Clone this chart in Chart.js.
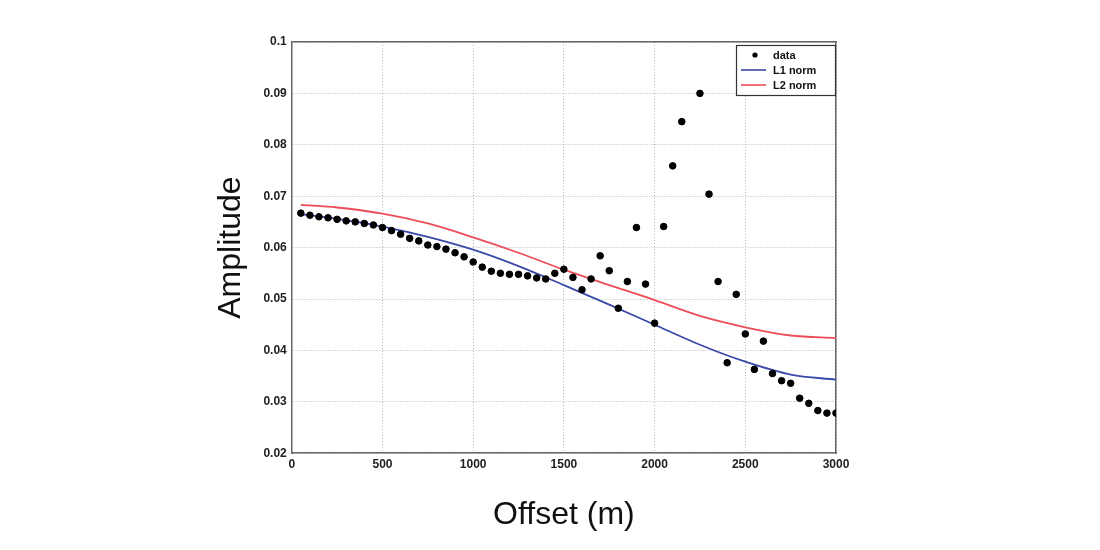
<!DOCTYPE html>
<html>
<head>
<meta charset="utf-8">
<script src="https://cdn.jsdelivr.net/npm/chart.js@4"></script>
<style>
  html, body { margin: 0; padding: 0; background: #fff; }
  #wrap { width: 1100px; height: 550px; }
</style>
</head>
<body>
<div id="wrap"><canvas id="chart" width="1100" height="550"></canvas></div>
<script>
// measured data points (offset in m, amplitude)
const offsets = [50, 100, 150, 200, 250, 300, 350, 400, 450, 500,
  550, 600, 650, 700, 750, 800, 850, 900, 950, 1000,
  1050, 1100, 1150, 1200, 1250, 1300, 1350, 1400, 1450, 1500,
  1550, 1600, 1650, 1700, 1750, 1800, 1850, 1900, 1950, 2000,
  2050, 2100, 2150, 2250, 2300, 2350, 2400, 2450, 2500,
  2550, 2600, 2650, 2700, 2750, 2800, 2850, 2900, 2950, 3000];
const amplitudes = [0.0667, 0.0663, 0.0660, 0.0658, 0.0655, 0.0652, 0.0650, 0.0647, 0.0644, 0.0639,
  0.0633, 0.0626, 0.0618, 0.0613, 0.0605, 0.0602, 0.0597, 0.0590, 0.0582, 0.0572,
  0.0562, 0.0554, 0.0550, 0.0548, 0.0548, 0.0545, 0.0541, 0.0539, 0.0550, 0.0558,
  0.0542, 0.0518, 0.0539, 0.0584, 0.0555, 0.0482, 0.0534, 0.0639, 0.0529, 0.0453,
  0.0641, 0.0759, 0.0845, 0.0900, 0.0704, 0.0534, 0.0376, 0.0509, 0.0432,
  0.0363, 0.0418, 0.0355, 0.0341, 0.0336, 0.0307, 0.0297, 0.0283, 0.0278, 0.0278];

// fitted curves, read every 250 m
const fitOffsets = [50, 250, 500, 750, 1000, 1250, 1500, 1750, 2000, 2250, 2500, 2750, 3000];
const l1Fit = [0.0665, 0.0656, 0.0641, 0.0621, 0.0596, 0.0564, 0.0527, 0.0489, 0.0450, 0.0411, 0.0378, 0.0353, 0.0343];
const l2Fit = [0.0683, 0.0678, 0.0666, 0.0647, 0.0620, 0.0590, 0.0557, 0.0527, 0.0498, 0.0467, 0.0445, 0.0429, 0.0424];

const pairs = (xs, ys) => xs.map((x, i) => ({ x, y: ys[i] }));

const gridCol = "#b4b4b4";
const boxCol = "#666";
const tickFont = { family: "Liberation Sans, Arial, sans-serif", size: 12, weight: "bold" };
const titleFont = { family: "Liberation Sans, Arial, sans-serif", size: 32 };

// legend box drawn inside the top-right corner of the plot
const boxLegend = {
  id: "boxLegend",
  afterDraw(chart) {
    const { ctx, chartArea } = chart;
    const w = 99, h = 50;
    const x0 = chartArea.right - w - 1, y0 = chartArea.top + 3;
    ctx.save();
    ctx.fillStyle = "#fff";
    ctx.fillRect(x0, y0, w, h);
    ctx.strokeStyle = "#333";
    ctx.lineWidth = 1.2;
    ctx.strokeRect(x0 + 0.5, y0 + 0.5, w, h);
    ctx.font = "bold 11px Liberation Sans, Arial, sans-serif";
    ctx.textBaseline = "middle";
    chart.data.datasets.forEach((ds, i) => {
      const cy = y0 + 10 + i * 15;
      if (ds.showLine) {
        ctx.strokeStyle = ds.borderColor;
        ctx.lineWidth = 1.6;
        ctx.beginPath();
        ctx.moveTo(x0 + 5, cy);
        ctx.lineTo(x0 + 30, cy);
        ctx.stroke();
      } else {
        ctx.fillStyle = ds.backgroundColor;
        ctx.beginPath();
        ctx.arc(x0 + 19, cy, 2.6, 0, Math.PI * 2);
        ctx.fill();
      }
      ctx.fillStyle = "#111";
      ctx.fillText(ds.label, x0 + 37, cy + 1);
    });
    ctx.restore();
  }
};

new Chart(document.getElementById("chart"), {
  type: "scatter",
  data: {
    datasets: [
      {
        label: "data",
        data: pairs(offsets, amplitudes),
        backgroundColor: "#000",
        borderColor: "#000",
        pointRadius: 3.3,
        pointStyle: "circle",
        showLine: false,
        order: 0
      },
      {
        label: "L1 norm",
        data: pairs(fitOffsets, l1Fit),
        borderColor: "#3a49a8",
        backgroundColor: "#3a49a8",
        borderWidth: 1.8,
        pointRadius: 0,
        showLine: true,
        cubicInterpolationMode: "monotone",
        order: 1
      },
      {
        label: "L2 norm",
        data: pairs(fitOffsets, l2Fit),
        borderColor: "#ec4d57",
        backgroundColor: "#ec4d57",
        borderWidth: 1.8,
        pointRadius: 0,
        showLine: true,
        cubicInterpolationMode: "monotone",
        order: 2
      }
    ]
  },
  options: {
    responsive: false,
    animation: false,
    layout: { padding: { left: 212, right: 264, top: 42, bottom: 16 } },
    plugins: {
      legend: { display: false },
      tooltip: { enabled: false }
    },
    scales: {
      x: {
        type: "linear",
        min: 0,
        max: 3000,
        ticks: { stepSize: 500, color: "#222", font: tickFont, padding: 4, maxRotation: 0, callback: v => String(v) },
        grid: { color: gridCol, drawTicks: false },
        border: { color: boxCol, width: 1.5, dash: [1, 2] },
        title: { display: true, text: "Offset (m)", color: "#111", font: titleFont, padding: { top: 20, bottom: 0 } }
      },
      y: {
        type: "linear",
        min: 0.02,
        max: 0.1,
        ticks: {
          stepSize: 0.01,
          color: "#222",
          font: tickFont,
          padding: 5,
          callback: v => String(parseFloat(v.toFixed(2)))
        },
        grid: { color: gridCol, drawTicks: false },
        border: { color: boxCol, width: 1.5, dash: [1, 2] },
        title: { display: true, text: "Amplitude", color: "#111", font: titleFont, padding: { top: 0, bottom: 8 } }
      },
      xTop: {
        type: "linear",
        position: "top",
        min: 0,
        max: 3000,
        ticks: { display: false },
        grid: { display: false, drawTicks: false },
        border: { color: boxCol, width: 1.5 }
      },
      yRight: {
        type: "linear",
        position: "right",
        min: 0.02,
        max: 0.1,
        ticks: { display: false },
        grid: { display: false, drawTicks: false },
        border: { color: boxCol, width: 1.5 }
      }
    }
  },
  plugins: [boxLegend]
});
</script>
</body>
</html>
